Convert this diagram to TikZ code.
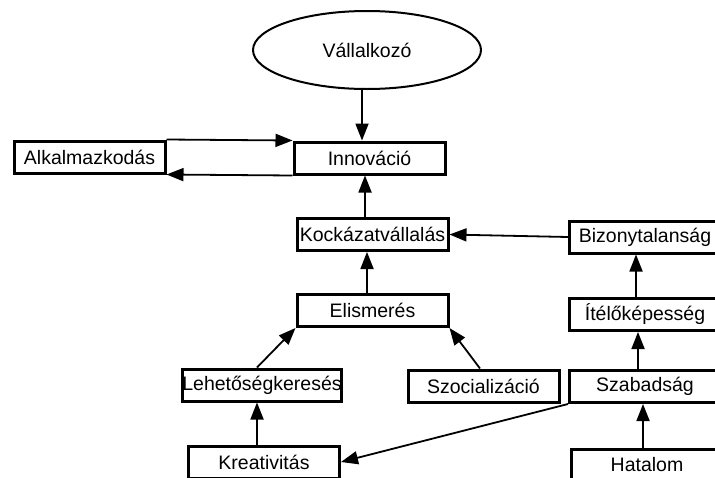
\documentclass[tikz,border=0pt]{standalone}
\usepackage{fontspec}
\setmainfont{Liberation Sans}
\usetikzlibrary{positioning,arrows.meta,shapes.geometric}

\begin{document}
\begin{tikzpicture}[
  x=1pt, y=-1pt,
  font=\fontsize{19.5}{22}\selectfont,
  box/.style={draw, line width=3pt, align=center, inner sep=0pt,
              minimum width=151pt, minimum height=32pt},
  oval/.style={draw, ellipse, line width=2pt, minimum width=228pt,
               minimum height=78pt},
  >={Triangle[length=17pt,width=13pt]},
  ln/.style={->, line width=1.8pt},
]
\useasboundingbox (0,0) rectangle (715,477);
\clip (0,0) rectangle (715,477);

\node[oval] (vallalkozo) at (367,50) {Vállalkozó};
\node[box] (innovacio) at (369.5,158) {Innováció};
\node[box] (alkalmazkodas) at (89.5,157) {Alkalmazkodás};
\node[box] (kockazat) at (372.5,234.5) {Kockázatvállalás};
\node[box] (bizonytalansag) at (645,237) {Bizonytalanság};
\node[box] (itelo) at (645,314.5) {Ítélőképesség};
\node[box] (elismeres) at (372.5,310.5) {Elismerés};
\node[box] (lehetoseg) at (262,385) {Lehetőségkeresés};
\node[box] (szocializacio) at (483.5,386) {Szocializáció};
\node[box] (szabadsag) at (645,386.5) {Szabadság};
\node[box] (kreativitas) at (264,462) {Kreativitás};
\node[box] (hatalom) at (647,465) {Hatalom};

\draw[ln] ([xshift=-7.5pt]innovacio.north |- vallalkozo.south)
      -- ([xshift=-7.5pt]innovacio.north);
\draw[ln] (alkalmazkodas.north east) -- (innovacio.north west);
\draw[ln] (innovacio.south west) -- (alkalmazkodas.south east);
\draw[ln] ([xshift=-7.5pt]kockazat.north)
      -- ([xshift=-7.5pt]kockazat.north |- innovacio.south);
\draw[ln] (bizonytalansag.west) -- (kockazat.east);
\draw[ln] ([xshift=-5.5pt]elismeres.north)
      -- ([xshift=-5.5pt]elismeres.north |- kockazat.south);
\draw[ln] ([xshift=-9pt]itelo.north)
      -- ([xshift=-9pt]itelo.north |- bizonytalansag.south);
\draw[ln] ([xshift=-7pt]szabadsag.north)
      -- ([xshift=-7pt]szabadsag.north |- itelo.south);
\draw[ln] ([xshift=-4pt]hatalom.north)
      -- ([xshift=-4pt]hatalom.north |- szabadsag.south);
\draw[ln] ([xshift=-5pt]lehetoseg.north) -- (elismeres.south west);
\draw[ln] ([xshift=-3.5pt]szocializacio.north) -- (elismeres.south east);
\draw[ln] ([xshift=-7pt]kreativitas.north)
      -- ([xshift=-7pt]kreativitas.north |- lehetoseg.south);
\draw[ln] (szabadsag.south west) -- (kreativitas.east);

\end{tikzpicture}
\end{document}
